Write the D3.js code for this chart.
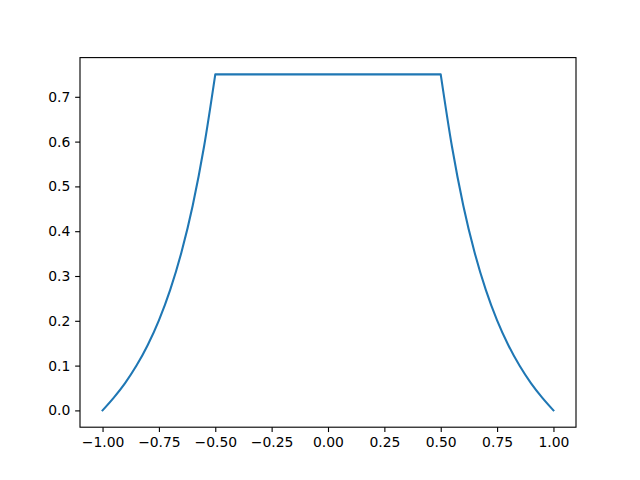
<!DOCTYPE html>
<html><head><meta charset="utf-8">
<script src="https://cdn.jsdelivr.net/npm/d3@7"></script>
<style>body{margin:0;background:#fff}svg{display:block}text{font-family:"DejaVu Sans",sans-serif;font-size:13.9px;fill:#000}</style>
</head><body>
<script>
const leftX  = [-1.0, -0.95, -0.9, -0.85, -0.8, -0.75, -0.7, -0.65, -0.6, -0.55, -0.5];
const leftY  = [0.0, 0.0285, 0.061, 0.0995, 0.1455, 0.201, 0.269, 0.353, 0.4575, 0.5885, 0.750];
const plateauX = [-0.5, 0.5];
const plateauY = [0.75, 0.75];
const rightX = [0.5, 0.55, 0.6, 0.65, 0.7, 0.75, 0.8, 0.85, 0.9, 0.95, 1.0];
const rightY = [0.750, 0.5885, 0.4575, 0.353, 0.269, 0.201, 0.1455, 0.0995, 0.061, 0.0285, 0.0];
const xTicks = [-1.0, -0.75, -0.5, -0.25, 0.0, 0.25, 0.5, 0.75, 1.0];
const yTicks = [0.0, 0.1, 0.2, 0.3, 0.4, 0.5, 0.6, 0.7];

const W = 640, H = 480;
const L = 80, R = 576, T = 57.6, B = 427.2;
const svg = d3.select("body").append("svg").attr("width", W).attr("height", H);

const x = d3.scaleLinear().domain([-1.1, 1.1]).range([L, R]);
const y = d3.scaleLinear().domain([-0.0375, 0.7875]).range([B, T]);

const curveLine = d3.line().x(d => x(d[0])).y(d => y(d[1])).curve(d3.curveMonotoneX);
const flatLine = d3.line().x(d => x(d[0])).y(d => y(d[1]));
const lp = leftX.map((v, i) => [v, leftY[i]]);
const pp = plateauX.map((v, i) => [v, plateauY[i]]);
const rp = rightX.map((v, i) => [v, rightY[i]]);
const dStr = curveLine(lp) + flatLine(pp).replace(/^M/, "L") + curveLine(rp).replace(/^M/, "L");

svg.append("path").attr("d", dStr).attr("fill", "none")
  .attr("stroke", "#1f77b4").attr("stroke-width", 2.08)
  .attr("stroke-linejoin", "round").attr("stroke-linecap", "square");

const fmtX = d3.format(".2f"), fmtY = d3.format(".1f");
const minus = s => s.replace("-", "\u2212");

const xAxis = d3.axisBottom(x).tickValues(xTicks).tickSize(4.86).tickPadding(4.86)
  .tickFormat(d => minus(fmtX(d)));
const yAxis = d3.axisLeft(y).tickValues(yTicks).tickSize(4.86).tickPadding(4.86)
  .tickFormat(d => fmtY(d));

const gx = svg.append("g").attr("transform", `translate(0,${B})`).call(xAxis);
const gy = svg.append("g").attr("transform", `translate(${L},0)`).call(yAxis);
[gx, gy].forEach(g => {
  g.select(".domain").remove();
  g.selectAll("line").attr("stroke", "#000").attr("stroke-width", 1.11);
  g.selectAll("text").attr("font-family", "DejaVu Sans").attr("font-size", 13.9).attr("fill", "#000");
});

svg.append("rect").attr("x", L).attr("y", T).attr("width", R - L).attr("height", B - T)
  .attr("fill", "none").attr("stroke", "#000").attr("stroke-width", 1.11);
</script>
</body></html>
